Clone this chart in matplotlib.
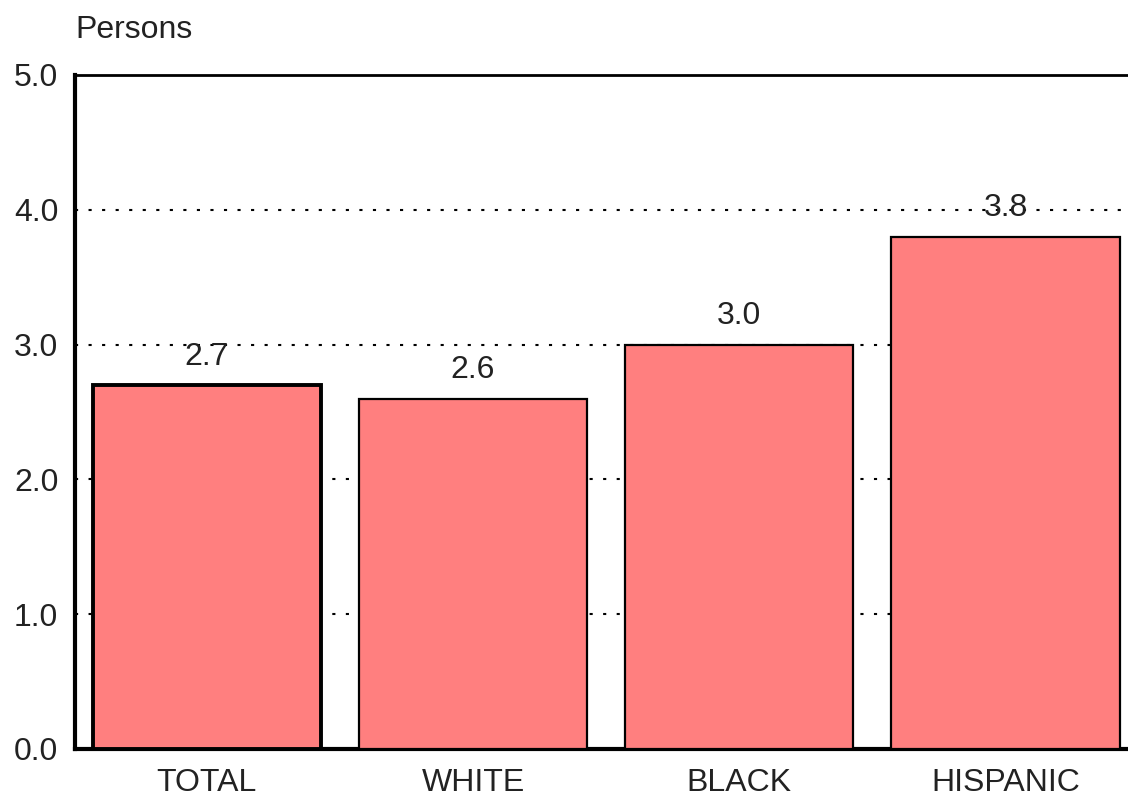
import numpy as np
import matplotlib.pyplot as plt

plt.rcParams['font.family'] = ['Liberation Sans', 'DejaVu Sans']

categories = ['TOTAL', 'WHITE', 'BLACK', 'HISPANIC']
values = [2.7, 2.6, 3.0, 3.8]
yticks = [0.0, 1.0, 2.0, 3.0, 4.0, 5.0]

fig = plt.figure(figsize=(11.28, 7.98), dpi=100)
ax = fig.add_axes([75 / 1128, 49 / 798, 1 - 75 / 1128, 674 / 798])

x = np.arange(len(categories))
bars = ax.bar(x, values, width=0.857, color='#ff7f7f', edgecolor='black',
              linewidth=1.6, zorder=3)
bars[0].set_linewidth(2.8)

for xi, v in zip(x, values):
    ax.text(xi, v + 0.1, f'{v:.1f}', ha='center', va='bottom', fontsize=23,
            color='#222222', zorder=4)

ax.set_xlim(-0.495, 3.46)
ax.set_ylim(0, 5)
ax.set_yticks(yticks)
ax.set_yticklabels([f'{t:.1f}' for t in yticks], fontsize=23, color='#222222')
ax.set_xticks(x)
ax.set_xticklabels(categories, fontsize=23, color='#222222')
ax.tick_params(axis='y', length=0, pad=12)
ax.tick_params(axis='x', length=0, pad=14)

for y in yticks[1:-1]:
    ax.axhline(y, color='black', linestyle=(0, (1.5, 5)), linewidth=1.5, zorder=1)

ax.spines['right'].set_visible(False)
ax.spines['left'].set_linewidth(3)
ax.spines['bottom'].set_linewidth(3)
ax.spines['top'].set_linewidth(2)

fig.text(75 / 1128, 1 - 30 / 798, 'Persons', fontsize=23, color='#222222',
         va='center', ha='left')

fig.savefig('out.png', dpi=100)
